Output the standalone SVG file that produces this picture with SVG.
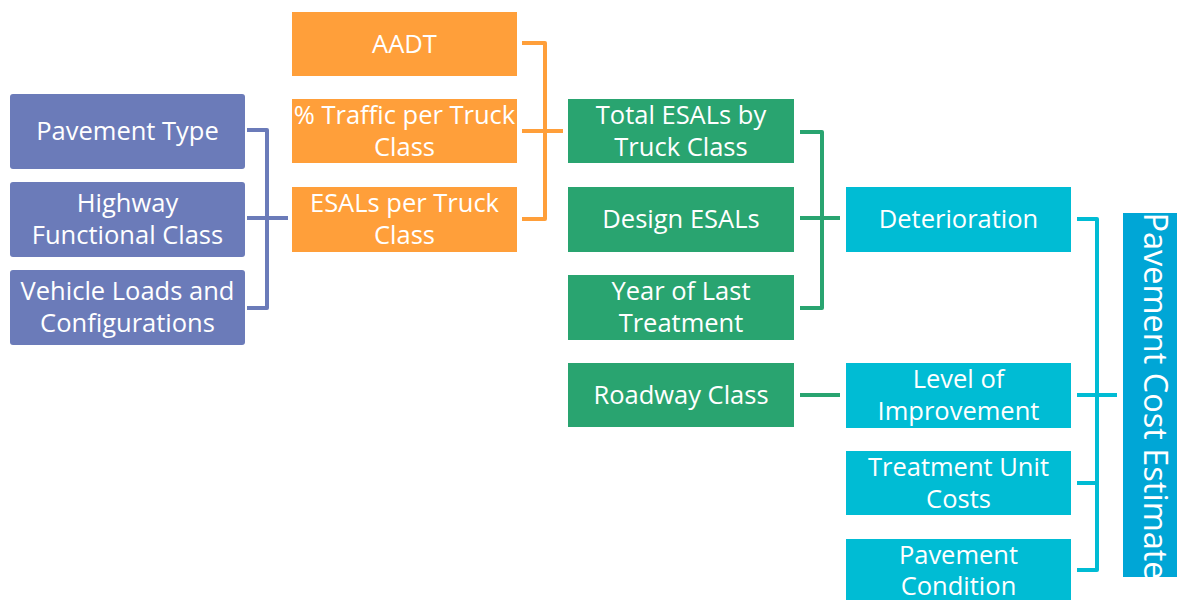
<svg xmlns="http://www.w3.org/2000/svg" width="1177" height="600" viewBox="0 0 1177 600">
  <style>
    .lbl { font-family: "Open Sans", "Noto Sans", sans-serif; font-size: 25.5px; fill: #ffffff; text-anchor: middle; }
    .big { font-family: "Open Sans", "Noto Sans", sans-serif; font-size: 32.5px; fill: #ffffff; text-anchor: middle; }
    .purple { fill: #6b7bb9; }
    .orange { fill: #ff9f3a; }
    .green { fill: #29a470; }
    .cyan { fill: #00bcd4; }
    .blue { fill: #00a6d6; }
    .link { fill: none; stroke-width: 4; stroke-linejoin: round; stroke-linecap: butt; }
  </style>
  <rect width="1177" height="600" fill="#ffffff"/>

  <!-- Bracket connectors -->
  <g id="connectors">
    <path class="link" stroke="#6b7bb9" d="M247,130 H267 V308 H247 M247,218 H288"/>
    <path class="link" stroke="#ff9f3a" d="M522,43 H545 V219 H522 M522,131 H563"/>
    <path class="link" stroke="#29a470" d="M800,132 H822 V308 H800 M800,218 H840"/>
    <path class="link" stroke="#29a470" d="M800,395 H840"/>
    <path class="link" stroke="#00bcd4" d="M1077,219 H1097 V570 H1077 M1077,395 H1117 M1077,483 H1097"/>
  </g>

  <!-- Column 1: inputs -->
  <g id="pavement-type">
    <rect class="purple" x="10" y="94" width="235" height="75" rx="3"/>
    <text class="lbl" x="127.5" y="140">Pavement Type</text>
  </g>
  <g id="highway-functional-class">
    <rect class="purple" x="10" y="182" width="235" height="75" rx="3"/>
    <text class="lbl" x="127.5" y="212">Highway</text>
    <text class="lbl" x="127.5" y="244">Functional Class</text>
  </g>
  <g id="vehicle-loads">
    <rect class="purple" x="10" y="270" width="235" height="75" rx="3"/>
    <text class="lbl" x="127.5" y="300">Vehicle Loads and</text>
    <text class="lbl" x="127.5" y="332">Configurations</text>
  </g>

  <!-- Column 2: traffic -->
  <g id="aadt">
    <rect class="orange" x="292" y="12" width="225" height="64"/>
    <text class="lbl" x="404.5" y="53">AADT</text>
  </g>
  <g id="traffic-per-truck-class">
    <rect class="orange" x="292" y="99" width="225" height="64"/>
    <text class="lbl" x="404.5" y="124">% Traffic per Truck</text>
    <text class="lbl" x="404.5" y="156">Class</text>
  </g>
  <g id="esals-per-truck-class">
    <rect class="orange" x="292" y="187" width="225" height="65"/>
    <text class="lbl" x="404.5" y="212">ESALs per Truck</text>
    <text class="lbl" x="404.5" y="244">Class</text>
  </g>

  <!-- Column 3: loading -->
  <g id="total-esals">
    <rect class="green" x="568" y="99" width="226" height="64"/>
    <text class="lbl" x="681" y="124">Total ESALs by</text>
    <text class="lbl" x="681" y="156">Truck Class</text>
  </g>
  <g id="design-esals">
    <rect class="green" x="568" y="187" width="226" height="65"/>
    <text class="lbl" x="681" y="228">Design ESALs</text>
  </g>
  <g id="year-of-last-treatment">
    <rect class="green" x="568" y="275" width="226" height="65"/>
    <text class="lbl" x="681" y="300">Year of Last</text>
    <text class="lbl" x="681" y="332">Treatment</text>
  </g>
  <g id="roadway-class">
    <rect class="green" x="568" y="363" width="226" height="64"/>
    <text class="lbl" x="681" y="404">Roadway Class</text>
  </g>

  <!-- Column 4: cost factors -->
  <g id="deterioration">
    <rect class="cyan" x="846" y="187" width="225" height="65"/>
    <text class="lbl" x="958.5" y="228">Deterioration</text>
  </g>
  <g id="level-of-improvement">
    <rect class="cyan" x="846" y="363" width="225" height="65"/>
    <text class="lbl" x="958.5" y="388">Level of</text>
    <text class="lbl" x="958.5" y="420">Improvement</text>
  </g>
  <g id="treatment-unit-costs">
    <rect class="cyan" x="846" y="451" width="225" height="64"/>
    <text class="lbl" x="958.5" y="476">Treatment Unit</text>
    <text class="lbl" x="958.5" y="508">Costs</text>
  </g>
  <g id="pavement-condition">
    <rect class="cyan" x="846" y="539" width="225" height="64"/>
    <text class="lbl" x="958.5" y="564">Pavement</text>
    <text class="lbl" x="958.5" y="595">Condition</text>
  </g>

  <!-- Output -->
  <g id="pavement-cost-estimate">
    <rect class="blue" x="1123" y="213" width="54" height="364"/>
    <text class="big" transform="translate(1144,396) rotate(90)">Pavement Cost Estimate</text>
  </g>
</svg>
